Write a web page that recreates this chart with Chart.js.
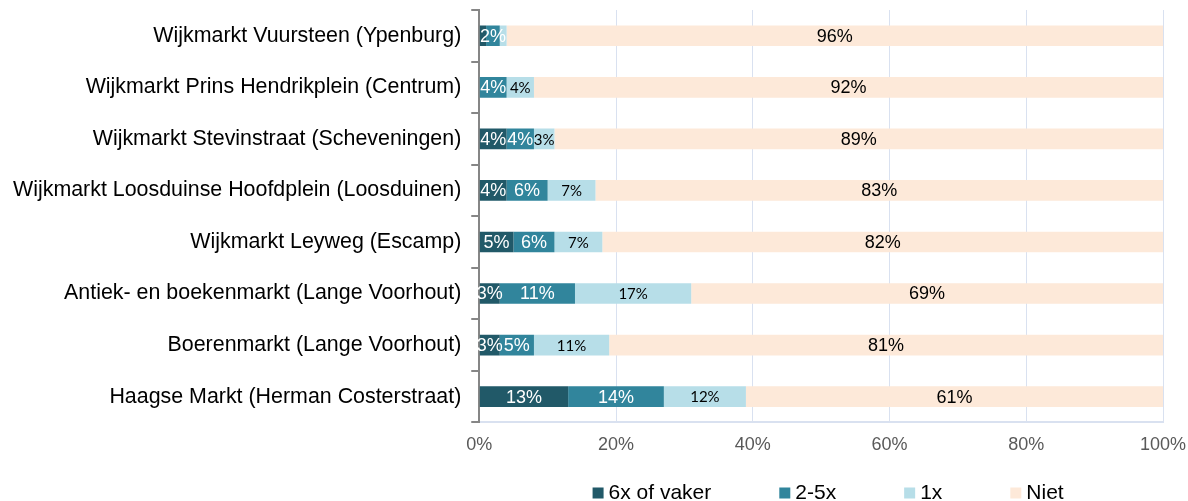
<!DOCTYPE html>
<html>
<head>
<meta charset="utf-8">
<script src="https://cdn.jsdelivr.net/npm/chart.js@4"></script>
<style>
  body { margin: 0; background: #fff; }
  #wrap { width: 1188px; height: 501px; }
</style>
</head>
<body>
<div id="wrap"><canvas id="chart" width="1188" height="501"></canvas></div>
<script>
// markten en percentages
const markten = [
    'Wijkmarkt Vuursteen (Ypenburg)',
    'Wijkmarkt Prins Hendrikplein (Centrum)',
    'Wijkmarkt Stevinstraat (Scheveningen)',
    'Wijkmarkt Loosduinse Hoofdplein (Loosduinen)',
    'Wijkmarkt Leyweg (Escamp)',
    'Antiek- en boekenmarkt (Lange Voorhout)',
    'Boerenmarkt (Lange Voorhout)',
    'Haagse Markt (Herman Costerstraat)'
];
const vaker6 = [1, 0, 4, 4, 5, 3, 3, 13];
const keer2tot5 = [2, 4, 4, 6, 6, 11, 5, 14];
const keer1 = [1, 4, 3, 7, 7, 17, 11, 12];
const niet = [96, 92, 89, 83, 82, 69, 81, 61];
const xTicks = [0, 20, 40, 60, 80, 100];

const FONT = "'Liberation Sans', Arial, sans-serif";

// labels in de balken
const labelPlugin = {
    id: 'barLabels',
    afterDatasetsDraw(chart) {
        const ctx = chart.ctx;
        chart.data.datasets.forEach((ds, i) => {
            const meta = chart.getDatasetMeta(i);
            meta.data.forEach((bar, j) => {
                const v = ds.data[j];
                if (v < 2) return;
                const x = (bar.x + bar.base) / 2;
                ctx.save();
                ctx.font = ds.labelFont;
                ctx.fillStyle = ds.labelColor;
                ctx.textAlign = 'center';
                ctx.textBaseline = 'middle';
                ctx.fillText(v + '%', x, bar.y + 1);
                ctx.restore();
            });
        });
    }
};

// eigen legenda onder het plotgebied, gecentreerd op de x-as
const legendPlugin = {
    id: 'bottomLegend',
    afterDraw(chart) {
        const ctx = chart.ctx;
        const area = chart.chartArea;
        const box = 11, gap = 5, spacing = 68;
        ctx.save();
        ctx.font = '21px ' + FONT;
        const items = chart.data.datasets.map(ds => ({
            text: ds.label, color: ds.backgroundColor, w: ctx.measureText(ds.label).width
        }));
        let total = items.reduce((s, it) => s + box + gap + it.w, 0) + spacing * (items.length - 1);
        let x = (area.left + area.right) / 2 - total / 2 + 7;
        const y = chart.height - 8;
        ctx.textBaseline = 'middle';
        ctx.textAlign = 'left';
        items.forEach(it => {
            ctx.fillStyle = it.color;
            ctx.fillRect(x, y - box / 2, box, box);
            ctx.fillStyle = '#000000';
            ctx.fillText(it.text, x + box + gap, y);
            x += box + gap + it.w + spacing;
        });
        ctx.restore();
    }
};

new Chart(document.getElementById('chart'), {
    type: 'bar',
    data: {
        labels: markten,
        datasets: [
            { label: '6x of vaker', data: vaker6, backgroundColor: '#215968',
              labelColor: '#ffffff', labelFont: '18px ' + FONT },
            { label: '2-5x', data: keer2tot5, backgroundColor: '#31859c',
              labelColor: '#ffffff', labelFont: '18px ' + FONT },
            { label: '1x', data: keer1, backgroundColor: '#b7dee8',
              labelColor: '#000000', labelFont: '15px Lato, ' + FONT },
            { label: 'Niet', data: niet, backgroundColor: '#fde9d9',
              labelColor: '#000000', labelFont: '18px ' + FONT }
        ]
    },
    options: {
        indexAxis: 'y',
        responsive: false,
        animation: false,
        layout: { padding: { left: 3, right: 0, top: 10, bottom: 33 } },
        datasets: { bar: { barPercentage: 0.4, categoryPercentage: 1 } },
        scales: {
            x: {
                stacked: true,
                min: 0,
                max: 100,
                afterBuildTicks(axis) { axis.ticks = xTicks.map(v => ({ value: v })); },
                afterFit(scale) { scale.paddingRight = 25; },
                ticks: {
                    callback: v => v + '%',
                    color: '#595959',
                    font: { family: FONT, size: 18 },
                    padding: 12
                },
                grid: { color: '#d9e1f0', drawTicks: false },
                border: { color: '#d9e1f0', width: 2 }
            },
            y: {
                stacked: true,
                offset: true,
                afterFit(scale) { scale.paddingTop = 0; scale.paddingBottom = 0; },
                ticks: {
                    color: '#000000',
                    font: { family: FONT, size: 21.4 },
                    padding: 10
                },
                grid: { offset: true, drawOnChartArea: false, color: '#868686', tickLength: 8, lineWidth: 2 },
                border: { color: '#868686', width: 2 }
            }
        },
        plugins: {
            tooltip: { enabled: false },
            legend: { display: false }
        }
    },
    plugins: [labelPlugin, legendPlugin]
});
</script>
</body>
</html>
